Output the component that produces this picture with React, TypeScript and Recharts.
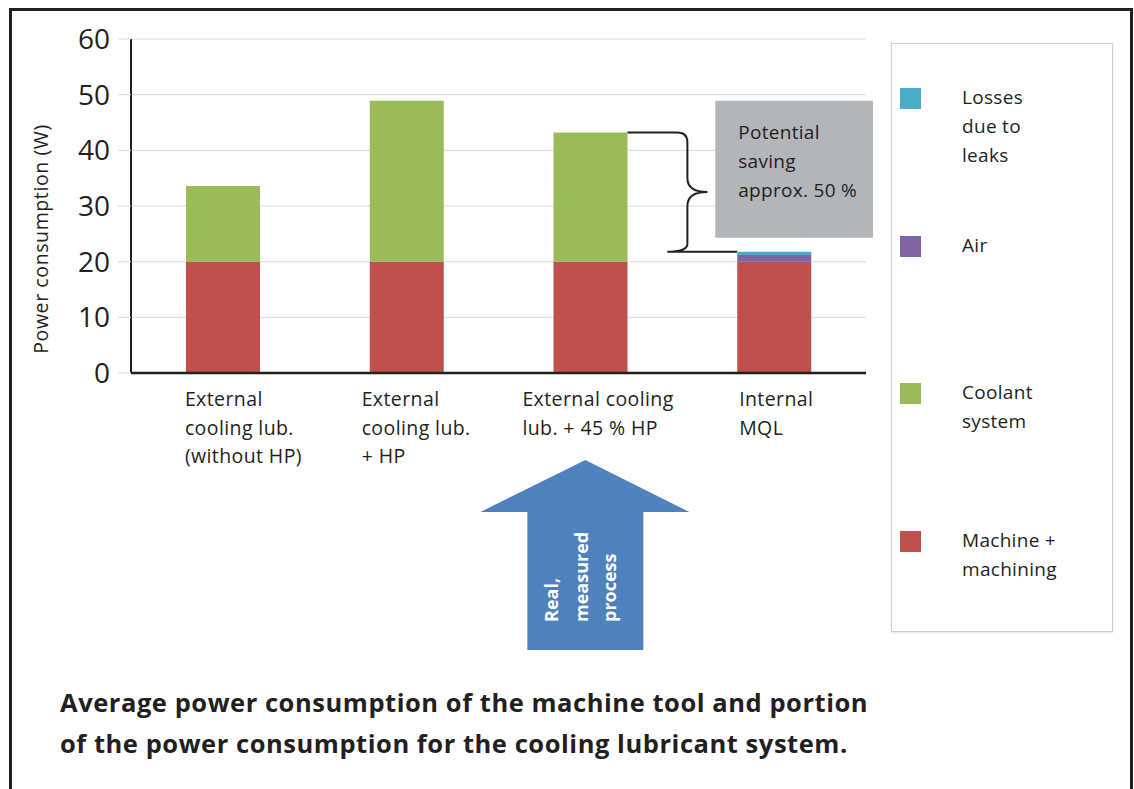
import React from 'react';
import { BarChart, Bar, XAxis, YAxis, CartesianGrid, ReferenceArea } from 'recharts';

const categories = [
  'External cooling lub. (without HP)',
  'External cooling lub. + HP',
  'External cooling lub. + 45 % HP',
  'Internal MQL',
];
const categoryLines = [
  ['External', 'cooling lub.', '(without HP)'],
  ['External', 'cooling lub.', '+ HP'],
  ['External cooling', 'lub. + 45 % HP'],
  ['Internal', 'MQL'],
];
const machine = [20, 20, 20, 20];
const coolant = [13.6, 28.9, 23.2, 0];
const air = [0, 0, 0, 1.2];
const losses = [0, 0, 0, 0.6];
const yTicks = [0, 10, 20, 30, 40, 50, 60];

const series = [
  { key: 'machine', name: 'Machine + machining', lines: ['Machine +', 'machining'], color: '#C0504D' },
  { key: 'coolant', name: 'Coolant system', lines: ['Coolant', 'system'], color: '#9BBB59' },
  { key: 'air', name: 'Air', lines: ['Air'], color: '#8064A2' },
  { key: 'losses', name: 'Losses due to leaks', lines: ['Losses', 'due to', 'leaks'], color: '#4BACC6' },
];

const savingBox = { low: 24.3, high: 48.9, lines: ['Potential', 'saving', 'approx. 50 %'] };
const arrowLines = ['Real,', 'measured', 'process'];

const data = categories.map((name, i) => ({
  name,
  machine: machine[i],
  coolant: coolant[i],
  air: air[i],
  losses: losses[i],
}));

const totals = data.map((d) => d.machine + d.coolant + d.air + d.losses);

const FONT = '"Open Sans", sans-serif';
const INK = '#231f20';
const BAR = 74;
const tickShift = [-38, -45, -68, -35];

const CategoryTick = (props: any) => {
  const { x, y, index } = props;
  const lines = categoryLines[index] || [];
  return (
    <g>
      {lines.map((t, i) => (
        <text key={i} x={x + tickShift[index]} y={y + 33 + i * 28.5} fontSize={19.5} letterSpacing={0.4}
          fill={INK} fontFamily={FONT}>
          {t}
        </text>
      ))}
    </g>
  );
};

const YLabel = (props: any) => {
  const vb = props.viewBox || { x: 0, y: 0, width: 0, height: 0 };
  const cx = vb.x + 40;
  const cy = vb.y + vb.height / 2 + 33;
  return (
    <text x={cx} y={cy} transform={`rotate(-90 ${cx} ${cy})`} textAnchor="middle" dominantBaseline="central"
      fontSize={19.5} letterSpacing={0.6} fill={INK} fontFamily={FONT}>
      Power consumption (W)
    </text>
  );
};

const SavingShape = (props: any) => {
  const { x, y, width, height } = props;
  const left = x + 33;
  const right = x + width + 7;
  return (
    <g>
      <rect x={left} y={y} width={right - left} height={height} fill="#B3B5B8" />
      {savingBox.lines.map((t, i) => (
        <text key={i} x={left + 23} y={y + 38 + i * 29} fontSize={19} letterSpacing={0.3} fill={INK} fontFamily={FONT}>
          {t}
        </text>
      ))}
    </g>
  );
};

const BraceShape = (props: any) => {
  const { x, y, width, height } = props;
  const bw = width / 2;
  const barRight = x + bw / 2 + BAR / 2;
  const nextLeft = x + bw * 1.5 - BAR / 2;
  const ty = y;
  const yb = y + height;
  const ym = (ty + yb) / 2;
  const bx = barRight + 60;
  const d = `M ${barRight} ${ty} L ${bx - 10} ${ty} Q ${bx} ${ty} ${bx} ${ty + 10} L ${bx} ${ym - 14} Q ${bx} ${ym} ${bx + 20} ${ym} Q ${bx} ${ym} ${bx} ${ym + 14} L ${bx} ${yb - 8} Q ${bx} ${yb} ${bx - 20} ${yb} L ${nextLeft} ${yb}`;
  return <path d={d} fill="none" stroke={INK} strokeWidth={2} />;
};

const ArrowShape = (props: any) => {
  const { x, y, width, height } = props;
  const cx = x + width / 2 - 5;
  const ay = y + height;
  const tip = ay + 87;
  const base = ay + 139;
  const bottom = ay + 277;
  const pts = [
    [cx, tip],
    [cx + 104, base],
    [cx + 58, base],
    [cx + 58, bottom],
    [cx - 58, bottom],
    [cx - 58, base],
    [cx - 105, base],
  ]
    .map((p) => p.join(','))
    .join(' ');
  const cols = [-27, 3, 31];
  const sy = ay + 249;
  return (
    <g>
      <polygon points={pts} fill="#4F81BD" />
      {arrowLines.map((t, i) => (
        <text key={i} x={cx + cols[i]} y={sy} transform={`rotate(-90 ${cx + cols[i]} ${sy})`}
          fontSize={18} fontWeight="bold" fill="#fff" fontFamily={FONT}>
          {t}
        </text>
      ))}
    </g>
  );
};

export default function App() {
  return (
    <div style={{ position: 'absolute', left: 0, top: 0, width: 1134, height: 789, overflow: 'hidden', background: '#fff', fontFamily: FONT, color: INK }}>
      <div style={{ position: 'absolute', left: 9, top: 8, width: 1118, height: 800, borderTop: `3px solid ${INK}`, borderLeft: `3px solid ${INK}`, borderRight: `3px solid ${INK}` }} />
      <div style={{ position: 'absolute', left: 0, top: 0 }}>
        <BarChart width={1134} height={789} data={data} margin={{ top: 39, right: 268, left: 0, bottom: 316 }} barSize={BAR}>
          <CartesianGrid vertical={false} stroke="#d9d9d9" strokeWidth={1} />
          <XAxis dataKey="name" height={100} tickLine={false} tickSize={0} tickMargin={0}
            axisLine={{ stroke: INK, strokeWidth: 2.5 }} tick={<CategoryTick />} interval={0} />
          <YAxis width={131} domain={[0, 60]} ticks={yTicks} tickSize={13} tickMargin={8}
            tickLine={{ stroke: '#d9d9d9' }} axisLine={{ stroke: INK, strokeWidth: 2 }}
            tick={{ fontSize: 28, fill: INK, fontFamily: FONT }} label={<YLabel />} />
          {series.map((s) => (
            <Bar key={s.key} dataKey={s.key} name={s.name} stackId="a" fill={s.color} isAnimationActive={false} />
          ))}
          <ReferenceArea x1={categories[3]} x2={categories[3]} y1={savingBox.low} y2={savingBox.high}
            ifOverflow="visible" shape={<SavingShape />} />
          <ReferenceArea x1={categories[2]} x2={categories[3]} y1={totals[3]} y2={totals[2]}
            ifOverflow="visible" shape={<BraceShape />} />
          <ReferenceArea x1={categories[2]} x2={categories[2]} y1={0} y2={10}
            ifOverflow="visible" shape={<ArrowShape />} />
        </BarChart>
      </div>
      <div style={{ position: 'absolute', left: 891, top: 43, width: 220, height: 587, border: '1.5px solid #cfcfcf', boxShadow: '0 1px 2px rgba(0,0,0,0.12)' }}>
        {[...series].reverse().map((s, i) => (
          <div key={s.key} style={{ position: 'absolute', left: 8, top: 44 + i * 147.7 }}>
            <div style={{ position: 'absolute', left: 0, top: 0, width: 21, height: 21, background: s.color }} />
            <div style={{ position: 'absolute', left: 62, top: -5, fontSize: 19, letterSpacing: 0.3, lineHeight: '29px', whiteSpace: 'nowrap' }}>
              {s.lines.map((t, j) => (
                <div key={j}>{t}</div>
              ))}
            </div>
          </div>
        ))}
      </div>
      <div style={{ position: 'absolute', left: 60, top: 682, fontSize: 25.5, letterSpacing: 0.55, fontWeight: 'bold', lineHeight: '41px', whiteSpace: 'nowrap' }}>
        <div>Average power consumption of the machine tool and portion</div>
        <div>of the power consumption for the cooling lubricant system.</div>
      </div>
    </div>
  );
}
